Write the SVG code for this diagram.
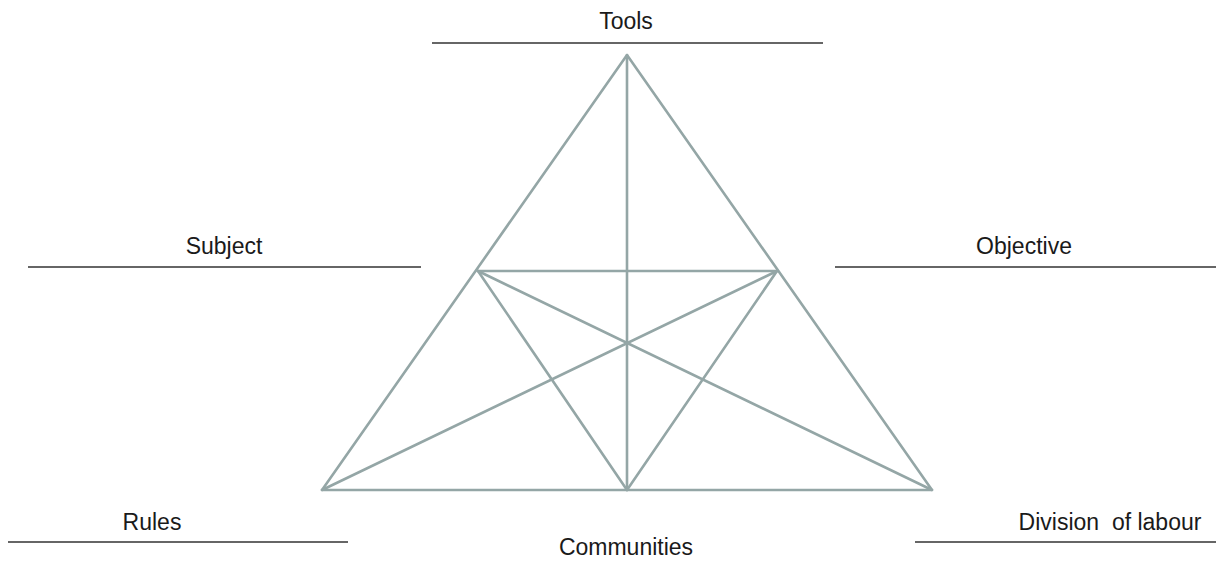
<svg xmlns="http://www.w3.org/2000/svg" width="1216" height="564" viewBox="0 0 1216 564">
<style>
.lbl{font-family:"Liberation Sans",Arial,sans-serif;font-size:23px;fill:#1a1a1a;text-anchor:middle}
.rule{stroke:#333;stroke-width:1.6}
.edge{stroke:#94a6a6;stroke-width:2.6;fill:none;stroke-linecap:round;stroke-linejoin:round}
</style>
<rect width="1216" height="564" fill="#fff"/>
<g id="node-tools"><line class="rule" x1="432" y1="43" x2="823" y2="43"/><text class="lbl" x="626" y="29">Tools</text></g>
<g id="node-subject"><line class="rule" x1="28" y1="267" x2="421" y2="267"/><text class="lbl" x="224" y="254">Subject</text></g>
<g id="node-objective"><line class="rule" x1="835" y1="267" x2="1216" y2="267"/><text class="lbl" x="1024" y="254">Objective</text></g>
<g id="node-rules"><line class="rule" x1="8" y1="542" x2="348" y2="542"/><text class="lbl" x="152" y="530">Rules</text></g>
<g id="node-communities"><text class="lbl" x="626" y="555">Communities</text></g>
<g id="node-division"><line class="rule" x1="915" y1="542" x2="1216" y2="542"/><text class="lbl" x="1110" y="530" xml:space="preserve">Division  of labour</text></g>
<g id="connectors" class="edge">
<polygon class="edge" points="627,55 322,490 932,490"/>
<line class="edge" x1="627" y1="55" x2="627" y2="490"/>
<line class="edge" x1="478" y1="271" x2="777" y2="271"/>
<line class="edge" x1="478" y1="271" x2="627" y2="490"/>
<line class="edge" x1="777" y1="271" x2="627" y2="490"/>
<line class="edge" x1="478" y1="271" x2="932" y2="490"/>
<line class="edge" x1="777" y1="271" x2="322" y2="490"/>
</g>
</svg>
